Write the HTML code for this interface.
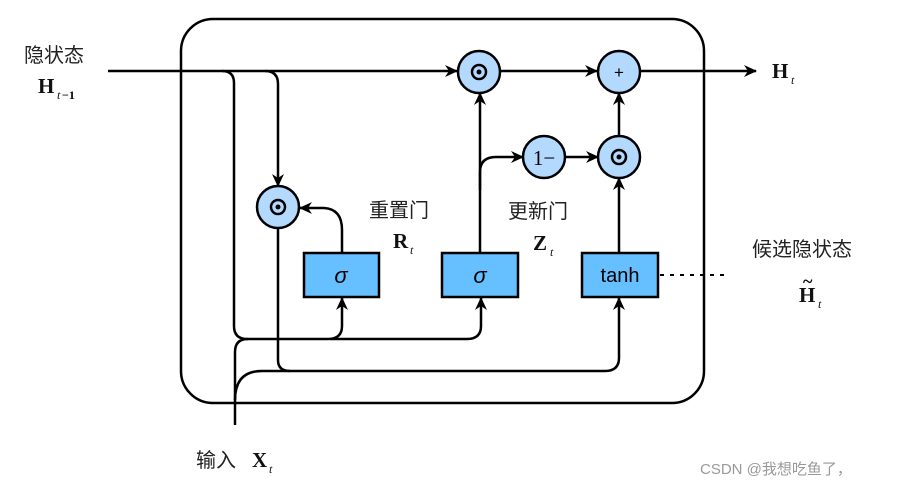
<!DOCTYPE html>
<html><head><meta charset="utf-8"><style>
html,body{margin:0;padding:0;background:#fff;}
svg{display:block}
.cj{font-family:"Liberation Sans","Noto Sans CJK SC",sans-serif;font-size:20px;fill:#222}
.m{font-family:"Liberation Serif",serif;font-weight:bold;font-size:21px;fill:#111}
.s{font-family:"Liberation Serif",serif;font-style:italic;font-size:12px;fill:#111}
</style></head><body>
<svg width="900" height="487" viewBox="0 0 900 487" xmlns="http://www.w3.org/2000/svg">
<defs><marker id="a" markerWidth="13" markerHeight="12" refX="12" refY="6" orient="auto" markerUnits="userSpaceOnUse"><path d="M0,0 L13,6 L0,12 L4,6 Z" fill="#000"/></marker></defs>
<g fill="none" stroke="#000" stroke-width="2.5">
<rect x="181" y="19" width="523" height="384" rx="32"/>
<line x1="108" y1="71" x2="457" y2="71" marker-end="url(#a)"/>
<line x1="500" y1="71" x2="597" y2="71" marker-end="url(#a)"/>
<line x1="640" y1="71" x2="756" y2="71" marker-end="url(#a)"/>
<path d="M222,71 Q234,71 234,83 L234,326 Q234,339 247,339 L328,339 Q342,339 342,326 L342,298" marker-end="url(#a)"/>
<path d="M330,339 L467,339 Q481,339 481,326 L481,298" marker-end="url(#a)"/>
<path d="M265,71 Q278,71 278,84 L278,186" marker-end="url(#a)"/>
<path d="M278,228 L278,360 Q278,371 290,371 L605,371 Q619,371 619,358 L619,298" marker-end="url(#a)"/>
<path d="M235,425 L235,352 Q235,339 248,339"/>
<path d="M235,400 Q235,371 262,371 L290,371"/>
<path d="M342,253 L342,230 Q342,209 324,208 L300,208" marker-end="url(#a)"/>
<path d="M480,253 L480,93" marker-end="url(#a)"/>
<path d="M480,190 L480,172 Q480,157 496,157 L523,157" marker-end="url(#a)"/>
<line x1="565" y1="157" x2="598" y2="157" marker-end="url(#a)"/>
<line x1="619" y1="253" x2="619" y2="178" marker-end="url(#a)"/>
<line x1="619" y1="135" x2="619" y2="93" marker-end="url(#a)"/>
<line x1="660" y1="275" x2="726" y2="275" stroke-dasharray="4,6" stroke-width="2"/>
</g>
<g stroke="#000" stroke-width="2.5" fill="#b3d9ff">
<circle cx="278" cy="207" r="21"/><circle cx="479" cy="72" r="21"/><circle cx="619" cy="72" r="21"/>
<circle cx="544" cy="157" r="21"/><circle cx="619" cy="157" r="21"/>
</g>
<g stroke="#000" stroke-width="2.5" fill="#66bfff">
<rect x="304" y="253" width="75" height="44"/><rect x="442" y="253" width="76" height="44"/><rect x="582" y="253" width="76" height="44"/>
</g>
<g fill="none" stroke="#000" stroke-width="2.5">
<circle cx="278" cy="207" r="7"/><circle cx="479" cy="72" r="7"/><circle cx="619" cy="157" r="7"/>
</g>
<g fill="#000"><circle cx="278" cy="207" r="2.5"/><circle cx="479" cy="72" r="2.5"/><circle cx="619" cy="157" r="2.5"/></g>
<text x="619" y="78" text-anchor="middle" font-family="Liberation Sans" font-size="17">+</text>
<text x="544" y="165" text-anchor="middle" font-family="Liberation Serif" font-size="21">1−</text>
<text x="341" y="283" text-anchor="middle" font-family="Liberation Sans" font-style="italic" font-size="22">σ</text>
<text x="480" y="283" text-anchor="middle" font-family="Liberation Sans" font-style="italic" font-size="22">σ</text>
<text x="620" y="282" text-anchor="middle" font-family="Liberation Sans" font-size="20">tanh</text>
<text class="cj" x="24" y="62">隐状态</text>
<text class="m" x="38" y="93">H</text><text class="s" x="57" y="99">t</text><text x="62" y="99" font-family="Liberation Serif" font-weight="bold" font-size="12">−1</text>
<text class="cj" x="369" y="217">重置门</text>
<text class="m" x="393" y="248">R</text><text class="s" x="410" y="254">t</text>
<text class="cj" x="508" y="218">更新门</text>
<text class="m" x="533" y="250">Z</text><text class="s" x="550" y="256">t</text>
<text class="cj" x="752" y="256">候选隐状态</text>
<text class="m" x="799" y="302">H</text><text x="803" y="287" font-family="Liberation Serif" font-weight="bold" font-size="18">~</text><text class="s" x="818" y="308">t</text>
<text class="m" x="772" y="78">H</text><text class="s" x="791" y="84">t</text>
<text class="cj" x="196" y="467">输入</text>
<text class="m" x="252" y="467">X</text><text class="s" x="269" y="473">t</text>
<text x="700" y="474" font-family="Liberation Sans,Noto Sans CJK SC,sans-serif" font-size="15" fill="#999">CSDN @我想吃鱼了，</text>
</svg>
</body></html>
